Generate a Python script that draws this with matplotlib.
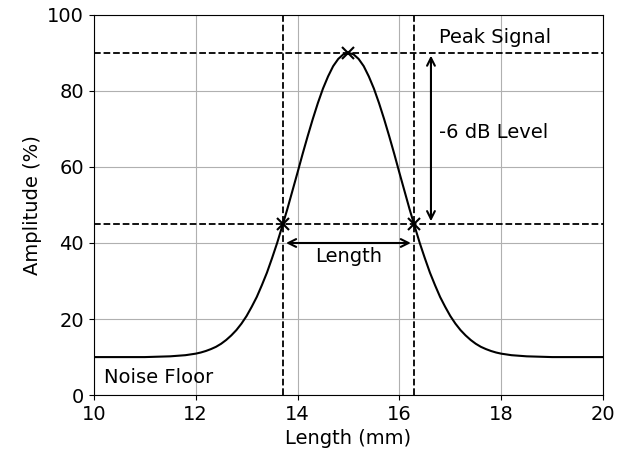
import numpy as np
import matplotlib
matplotlib.use('Agg')
import matplotlib.pyplot as plt

# 信号幅度曲线
x_tail_left = [10.0, 10.5, 11.0, 11.5, 11.8]
y_tail_left = [10.0, 10.0, 10.0, 10.2, 10.5]
x_mid = np.round(np.linspace(12.0, 18.0, 61), 1)
y_mid = [10.9, 11.2, 11.6, 12.1, 12.7, 13.5, 14.5, 15.7, 17.1, 18.8,
         20.8, 23.2, 25.8, 28.9, 32.2, 36.0, 40.0, 44.4, 48.9, 53.7,
         58.5, 63.4, 68.1, 72.6, 76.8, 80.6, 83.8, 86.5, 88.4, 89.6,
         90.0,
         89.6, 88.4, 86.5, 83.8, 80.6, 76.8, 72.6, 68.1, 63.4, 58.5,
         53.7, 48.9, 44.4, 40.0, 36.0, 32.2, 28.9, 25.8, 23.2, 20.8,
         18.8, 17.1, 15.7, 14.5, 13.5, 12.7, 12.1, 11.6, 11.2, 10.9]
x_tail_right = [18.2, 18.5, 19.0, 19.5, 20.0]
y_tail_right = [10.5, 10.2, 10.0, 10.0, 10.0]

length_mm = np.concatenate([x_tail_left, x_mid, x_tail_right])
amplitude = np.concatenate([y_tail_left, y_mid, y_tail_right])

peak_x, peak_y = 15.0, 90.0
half_level = 45.0
half_left, half_right = 13.72, 16.28
db_arrow_x = 16.62
length_arrow_y = 40.0

plt.rcParams['font.size'] = 14

fig = plt.figure(figsize=(6.25, 4.49), dpi=100)
ax = fig.add_axes([0.150, 0.120, 0.815, 0.847])

ax.plot(length_mm, amplitude, color='black', lw=1.5)
ax.plot([half_left, peak_x, half_right], [half_level, peak_y, half_level],
        'x', color='black', markersize=9, markeredgewidth=1.5)

ax.axhline(peak_y, color='black', ls='--', lw=1.3)
ax.axhline(half_level, color='black', ls='--', lw=1.3)
ax.axvline(half_left, color='black', ls='--', lw=1.3)
ax.axvline(half_right, color='black', ls='--', lw=1.3)

ax.annotate('', xy=(db_arrow_x, peak_y), xytext=(db_arrow_x, half_level),
            arrowprops=dict(arrowstyle='<->', color='black', lw=1.5))
ax.annotate('', xy=(half_left, length_arrow_y), xytext=(half_right, length_arrow_y),
            arrowprops=dict(arrowstyle='<->', color='black', lw=1.5))

ax.text(16.78, 94, 'Peak Signal', va='center', ha='left')
ax.text(16.78, 69, '-6 dB Level', va='center', ha='left')
ax.text(15.0, 36.5, 'Length', va='center', ha='center')
ax.text(10.2, 4.7, 'Noise Floor', va='center', ha='left')

ax.set_xlim(10, 20)
ax.set_ylim(0, 100)
ax.set_xlabel('Length (mm)')
ax.set_ylabel('Amplitude (%)')
ax.grid(True, color='#b0b0b0', lw=0.8)

plt.savefig('out.png', dpi=100)
